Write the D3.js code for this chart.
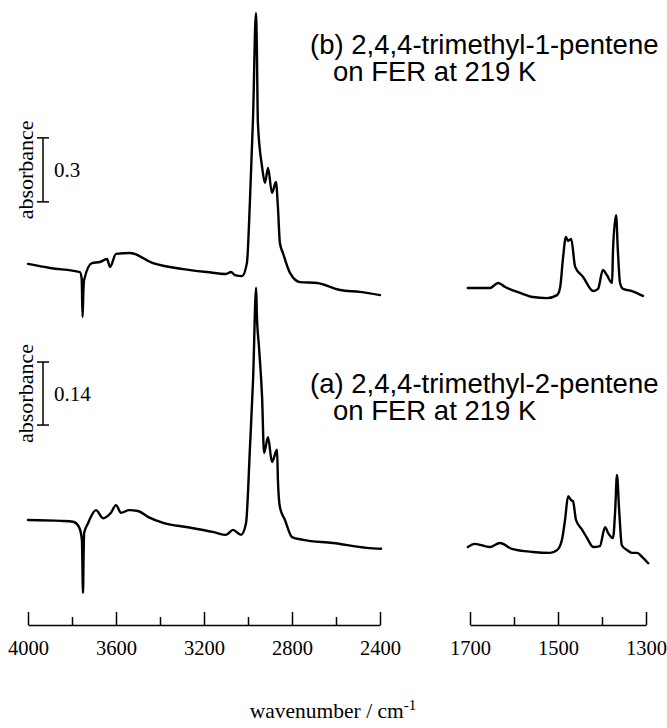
<!DOCTYPE html>
<html>
<head>
<meta charset="utf-8">
<script src="https://cdn.jsdelivr.net/npm/d3@7"></script>
<style>
  body { margin: 0; background: #fff; }
  svg { display: block; }
</style>
</head>
<body>
<div id="chart"></div>
<script>
// IR spectra of trimethylpentenes on FER, two spectral windows

// (b) 2,4,4-trimethyl-1-pentene, high wavenumber window
const wnHighB = [4000, 3900, 3764, 3756, 3752, 3748, 3745, 3709, 3673, 3641, 3627, 3600, 3536, 3432, 3295,
    3186, 3100, 3077, 3060, 3027, 3005, 2991, 2977, 2964, 2960, 2955, 2936, 2923, 2909, 2891, 2873, 2864,
    2855, 2841, 2809, 2764, 2686, 2582, 2491, 2400];
const absHighB = [0.169, 0.150, 0.131, 0.100, -0.080, 0.050, 0.094, 0.173, 0.178, 0.192, 0.155, 0.216, 0.220, 0.173, 0.145,
    0.131, 0.122, 0.131, 0.117, 0.112, 0.173, 0.469, 0.858, 1.345, 1.20, 0.830, 0.624, 0.549, 0.619, 0.502, 0.553, 0.436,
    0.267, 0.220, 0.127, 0.084, 0.080, 0.047, 0.038, 0.023];

// (b) low wavenumber window
const wnLowB = [1705, 1655, 1636, 1620, 1586, 1557, 1525, 1502, 1495, 1489, 1482, 1477, 1470, 1461, 1443,
    1420, 1409, 1398, 1389, 1377, 1375, 1368, 1364, 1359, 1352, 1332, 1307];
const absLowB = [0.056, 0.056, 0.080, 0.061, 0.033, 0.014, 0.009, 0.023, 0.061, 0.188, 0.295, 0.277, 0.286, 0.155, 0.108,
    0.042, 0.052, 0.141, 0.117, 0.080, 0.234, 0.398, 0.234, 0.080, 0.052, 0.042, 0.019];

// (a) 2,4,4-trimethyl-2-pentene, high wavenumber window
const wnHighA = [4000, 3850, 3795, 3768, 3755, 3750, 3747, 3745, 3727, 3691, 3659, 3623, 3600, 3577, 3541, 3500,
    3455, 3382, 3273, 3155, 3100, 3068, 3032, 3009, 2991, 2977, 2963, 2960, 2950, 2936, 2927, 2909, 2891, 2868,
    2864, 2855, 2832, 2800, 2750, 2614, 2459, 2395];
const absHighA = [0.100, 0.098, 0.096, 0.084, 0.056, -0.062, 0.030, 0.071, 0.093, 0.122, 0.104, 0.116, 0.133, 0.116, 0.122, 0.120,
    0.107, 0.093, 0.084, 0.073, 0.067, 0.078, 0.067, 0.093, 0.262, 0.411, 0.616, 0.560, 0.484, 0.373, 0.249, 0.284, 0.229, 0.256,
    0.189, 0.129, 0.100, 0.062, 0.056, 0.049, 0.038, 0.036];

// (a) low wavenumber window
const wnLowA = [1705, 1689, 1655, 1632, 1605, 1557, 1518, 1502, 1491, 1484, 1477, 1470, 1466, 1459, 1445, 1434,
    1420, 1405, 1393, 1386, 1375, 1370, 1366, 1361, 1355, 1343, 1332, 1320, 1309, 1295];
const absLowA = [0.040, 0.047, 0.040, 0.049, 0.036, 0.029, 0.027, 0.033, 0.056, 0.100, 0.153, 0.144, 0.142, 0.100, 0.078, 0.060,
    0.040, 0.042, 0.084, 0.071, 0.060, 0.122, 0.200, 0.122, 0.044, 0.033, 0.027, 0.027, 0.018, 0.004];

// axis ticks
const highMajor = [4000, 3600, 3200, 2800, 2400];
const highMinor = [3800, 3400, 3000, 2600];
const lowMajor = [1700, 1500, 1300];
const lowMinor = [1600, 1400];

// scale bars (absorbance) and labels
const scaleBars = [0.3, 0.14];
const sampleLabels = [
    ["(b) 2,4,4-trimethyl-1-pentene", "on FER at 219 K"],
    ["(a) 2,4,4-trimethyl-2-pentene", "on FER at 219 K"]
];

const width = 667;
const height = 728;
const axisY = 625;
const serif = '"Liberation Serif", "Times New Roman", serif';

const svg = d3.select('#chart')
    .append('svg')
    .attr('width', width)
    .attr('height', height);

const xHigh = d3.scaleLinear().domain([4000, 2400]).range([28, 380]);
const xLow = d3.scaleLinear().domain([1700, 1300]).range([470, 646]);

// each spectrum has its own absorbance scale
const yB = d3.scaleLinear().domain([0, 0.3]).range([300, 236]);
const yA = d3.scaleLinear().domain([0, 0.14]).range([565, 502]);

function drawTrace(wn, ab, x, y) {
    const pts = wn.map((w, i) => [w, ab[i]]);
    svg.append('path')
        .datum(pts)
        .attr('fill', 'none')
        .attr('stroke', '#000')
        .attr('stroke-width', 2.4)
        .attr('stroke-linejoin', 'round')
        .attr('stroke-linecap', 'round')
        .attr('d', d3.line().curve(d3.curveMonotoneX).x(d => x(d[0])).y(d => y(d[1])));
}

drawTrace(wnHighB, absHighB, xHigh, yB);
drawTrace(wnLowB, absLowB, xLow, yB);
drawTrace(wnHighA, absHighA, xHigh, yA);
drawTrace(wnLowA, absLowA, xLow, yA);

// bottom axes, ticks pointing up
function xAxis(g, x, major, minor) {
    g.attr('transform', `translate(0,${axisY})`);
    g.append('g')
        .call(d3.axisBottom(x).tickValues(minor).tickSize(-8).tickSizeOuter(0).tickFormat(''))
        .call(a => a.select('.domain').remove());
    g.append('g')
        .call(d3.axisBottom(x).tickValues(major).tickSize(-13).tickSizeOuter(0)
            .tickPadding(15).tickFormat(d3.format('d')))
        .attr('font-family', serif)
        .attr('font-size', '20.5px');
    g.selectAll('line, path').attr('stroke', '#000').attr('stroke-width', 1.5);
    g.selectAll('text').attr('fill', '#000');
}
svg.append('g').call(xAxis, xHigh, highMajor, highMinor);
svg.append('g').call(xAxis, xLow, lowMajor, lowMinor);

svg.append('text')
    .attr('x', 333)
    .attr('y', 718)
    .attr('text-anchor', 'middle')
    .attr('font-family', serif)
    .attr('font-size', '21.5px')
    .text('wavenumber / cm')
    .append('tspan')
    .attr('dy', -8)
    .attr('font-size', '15px')
    .text('-1');

// absorbance scale bars
const bars = [
    { y: yB, base: 0.46, size: scaleBars[0] },
    { y: yA, base: 0.311, size: scaleBars[1] }
];
bars.forEach(b => {
    const y0 = b.y(b.base), y1 = b.y(b.base + b.size);
    const g = svg.append('g').attr('stroke', '#000').attr('stroke-width', 1.5);
    g.append('line').attr('x1', 43).attr('x2', 43).attr('y1', y0).attr('y2', y1);
    g.append('line').attr('x1', 37).attr('x2', 49).attr('y1', y0).attr('y2', y0);
    g.append('line').attr('x1', 37).attr('x2', 49).attr('y1', y1).attr('y2', y1);
    const mid = (y0 + y1) / 2;
    svg.append('text')
        .attr('x', 54)
        .attr('y', mid + 7)
        .attr('font-family', serif)
        .attr('font-size', '21px')
        .text(b.size);
    svg.append('text')
        .attr('transform', `translate(33,${mid}) rotate(-90)`)
        .attr('text-anchor', 'middle')
        .attr('font-family', serif)
        .attr('font-size', '22px')
        .text('absorbance');
});

// sample labels
const labelPos = [{ x: 310, y: 54 }, { x: 310, y: 393 }];
sampleLabels.forEach((lines, i) => {
    [0, 1].forEach(k => {
        svg.append('text')
            .attr('x', labelPos[i].x + (k ? 23 : 0))
            .attr('y', labelPos[i].y + k * 27)
            .attr('font-family', '"Liberation Sans", Arial, Helvetica, sans-serif')
            .attr('font-size', '27.5px')
            .attr('fill', '#000')
            .text(lines[k]);
    });
});
</script>
</body>
</html>
